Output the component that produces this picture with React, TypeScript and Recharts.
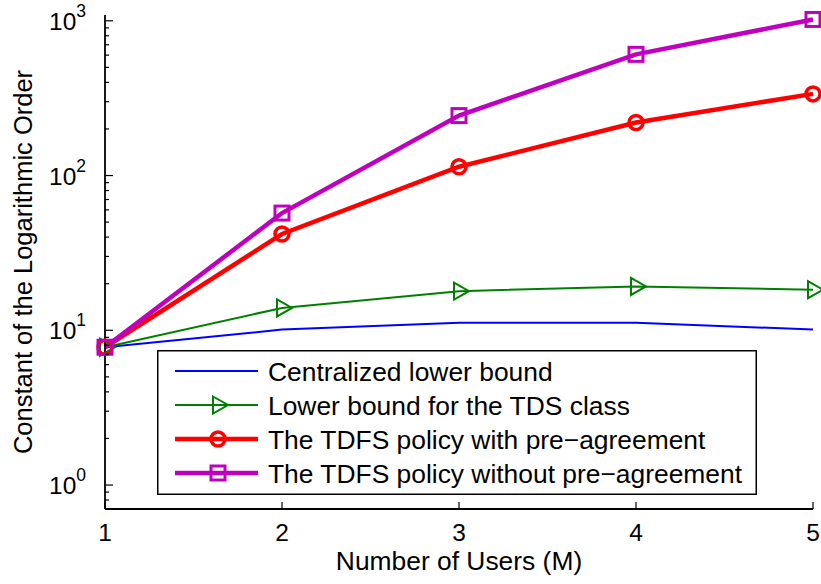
import React from 'react';
import { LineChart, Line, XAxis, YAxis, Legend } from 'recharts';

// ---- data ----
const users = [1, 2, 3, 4, 5];
const centralized = [7.77, 10.1, 11.2, 11.2, 10.1];
const tdsLower = [7.77, 13.95, 17.9, 19.2, 18.3];
const withPre = [7.77, 41.9, 114, 220, 337];
const withoutPre = [7.77, 57.2, 244, 607, 1020];

const xTicks = [1, 2, 3, 4, 5];
const yMajor = [1, 10, 100, 1000];
const yMinor = [
  0.7, 0.8, 0.9,
  2, 3, 4, 5, 6, 7, 8, 9,
  20, 30, 40, 50, 60, 70, 80, 90,
  200, 300, 400, 500, 600, 700, 800, 900,
];
const yTicks = [...yMajor, ...yMinor].sort((a, b) => a - b);
const yDomain = [0.7, 1090];

const seriesNames = [
  'Centralized lower bound',
  'Lower bound for the TDS class',
  'The TDFS policy with pre\u2212agreement',
  'The TDFS policy without pre\u2212agreement',
];

const data = users.map((u, i) => ({
  x: u,
  centralized: centralized[i],
  tdsLower: tdsLower[i],
  withPre: withPre[i],
  withoutPre: withoutPre[i],
}));

const FONT = '"Liberation Sans", Arial, Helvetica, sans-serif';

const styles: Record<string, { color: string; width: number; marker: string }> = {
  centralized: { color: '#0000ff', width: 2, marker: 'none' },
  tdsLower: { color: '#008000', width: 2, marker: 'tri' },
  withPre: { color: '#ff0000', width: 4.5, marker: 'circle' },
  withoutPre: { color: '#bf00bf', width: 4.5, marker: 'square' },
};

function Marker({ cx, cy, type, color }: any) {
  if (type === 'tri') {
    return (
      <path
        d={`M${cx - 5},${cy - 8.5} L${cx + 10},${cy} L${cx - 5},${cy + 8.5} Z`}
        fill="none"
        stroke={color}
        strokeWidth={2}
      />
    );
  }
  if (type === 'circle') {
    return <circle cx={cx} cy={cy} r={7} fill="none" stroke={color} strokeWidth={3.5} />;
  }
  if (type === 'square') {
    return <rect x={cx - 7} y={cy - 7} width={14} height={14} fill="none" stroke={color} strokeWidth={3} />;
  }
  return null;
}

const makeDot = (key: string) => (p: any) => {
  const s = styles[key];
  if (p.cx == null || p.cy == null) return <g key={p.key ?? p.index} />;
  return (
    <g key={p.key ?? `${key}-${p.index}`}>
      <Marker cx={p.cx} cy={p.cy} type={s.marker} color={s.color} />
    </g>
  );
};

function LeftTick(props: any) {
  const { x, y, payload } = props;
  const v = payload.value;
  const major = yMajor.includes(v);
  const exp = Math.round(Math.log10(v));
  return (
    <g>
      <line x1={x} x2={x + (major ? 8 : 4)} y1={y} y2={y} stroke="#000" strokeWidth={1.2} />
      {major && (
        <text x={x - 19} y={y + 9} textAnchor="end" fontFamily={FONT} fontSize={24.5} fill="#000">
          10
          <tspan dy={-13} fontSize={17.5}>
            {exp}
          </tspan>
        </text>
      )}
    </g>
  );
}

function RightTick(props: any) {
  const { x, y, payload } = props;
  const major = yMajor.includes(payload.value);
  return <line x1={x} x2={x - (major ? 8 : 4)} y1={y} y2={y} stroke="#000" strokeWidth={1.2} />;
}

function BottomTick(props: any) {
  const { x, y, payload } = props;
  return (
    <g>
      <line x1={x} x2={x} y1={y} y2={y - 7} stroke="#000" strokeWidth={1.2} />
      <text x={x} y={y + 32} textAnchor="middle" fontFamily={FONT} fontSize={24.5} fill="#000">
        {payload.value}
      </text>
    </g>
  );
}

function TopTick(props: any) {
  const { x, y } = props;
  return <line x1={x} x2={x} y1={y} y2={y + 7} stroke="#000" strokeWidth={1.2} />;
}

const renderLegend = (props: any) => {
  const payload = props.payload || [];
  return (
    <svg width={600} height={146} style={{ display: 'block', overflow: 'visible' }}>
      <rect x={0.75} y={0.75} width={598.5} height={143.5} fill="#fff" stroke="#000" strokeWidth={1.5} />
      {payload.map((item: any, i: number) => {
        const key = item.dataKey as string;
        const s = styles[key];
        const cy = 21 + i * 34;
        return (
          <g key={key}>
            <line x1={18} x2={101} y1={cy} y2={cy} stroke={s.color} strokeWidth={s.width} />
            <Marker cx={61} cy={cy} type={s.marker} color={s.color} />
            <text x={111} y={cy + 9.5} fontFamily={FONT} fontSize={26.4} fill="#000">
              {item.value}
            </text>
          </g>
        );
      })}
    </svg>
  );
};

export default function App() {
  return (
    <div style={{ position: 'absolute', left: 0, top: 0, width: 821, height: 584, background: '#fff' }}>
      <LineChart width={821} height={584} data={data} margin={{ top: 15, right: 8, bottom: 0, left: 0 }}>
        <XAxis
          xAxisId="b"
          dataKey="x"
          type="number"
          domain={[1, 5]}
          ticks={xTicks}
          interval={0}
          height={75}
          tickSize={0}
          tickMargin={0}
          tickLine={false}
          axisLine={{ stroke: '#000', strokeWidth: 1.8 }}
          tick={BottomTick}
          label={(p: any) => {
            const vb = p.viewBox || {};
            return (
              <text
                x={vb.x + vb.width / 2}
                y={vb.y + 61}
                textAnchor="middle"
                fontFamily={FONT}
                fontSize={26.4}
                fill="#000"
              >
                Number of Users (M)
              </text>
            );
          }}
        />
        <XAxis
          xAxisId="t"
          orientation="top"
          dataKey="x"
          type="number"
          domain={[1, 5]}
          ticks={xTicks}
          interval={0}
          height={0}
          tickSize={0}
          tickMargin={0}
          tickLine={false}
          axisLine={{ stroke: '#000', strokeWidth: 1.8 }}
          tick={TopTick}
        />
        <YAxis
          yAxisId="l"
          type="number"
          scale="log"
          domain={yDomain}
          ticks={yTicks}
          interval={0}
          width={105}
          tickSize={0}
          tickMargin={0}
          tickLine={false}
          axisLine={{ stroke: '#000', strokeWidth: 1.8 }}
          tick={LeftTick}
          label={(p: any) => {
            const vb = p.viewBox || {};
            const cx = 32;
            const cy = vb.y + vb.height / 2;
            return (
              <text
                x={cx}
                y={cy}
                transform={`rotate(-90, ${cx}, ${cy})`}
                textAnchor="middle"
                fontFamily={FONT}
                fontSize={25.5}
                fill="#000"
              >
                Constant of the Logarithmic Order
              </text>
            );
          }}
        />
        <YAxis
          yAxisId="r"
          orientation="right"
          type="number"
          scale="log"
          domain={yDomain}
          ticks={yTicks}
          interval={0}
          width={0}
          tickSize={0}
          tickMargin={0}
          tickLine={false}
          axisLine={{ stroke: '#000', strokeWidth: 1.8 }}
          tick={RightTick}
        />
        <Legend
          layout="vertical"
          align="center"
          verticalAlign="middle"
          content={renderLegend}
          wrapperStyle={{ left: 157, top: 350, width: 600, height: 146 }}
        />
        {(['centralized', 'tdsLower', 'withPre', 'withoutPre'] as const).map((k, i) => (
          <Line
            key={k}
            xAxisId="b"
            yAxisId="l"
            dataKey={k}
            name={seriesNames[i]}
            stroke={styles[k].color}
            strokeWidth={styles[k].width}
            type="linear"
            dot={makeDot(k)}
            activeDot={false}
            isAnimationActive={false}
          />
        ))}
      </LineChart>
    </div>
  );
}
